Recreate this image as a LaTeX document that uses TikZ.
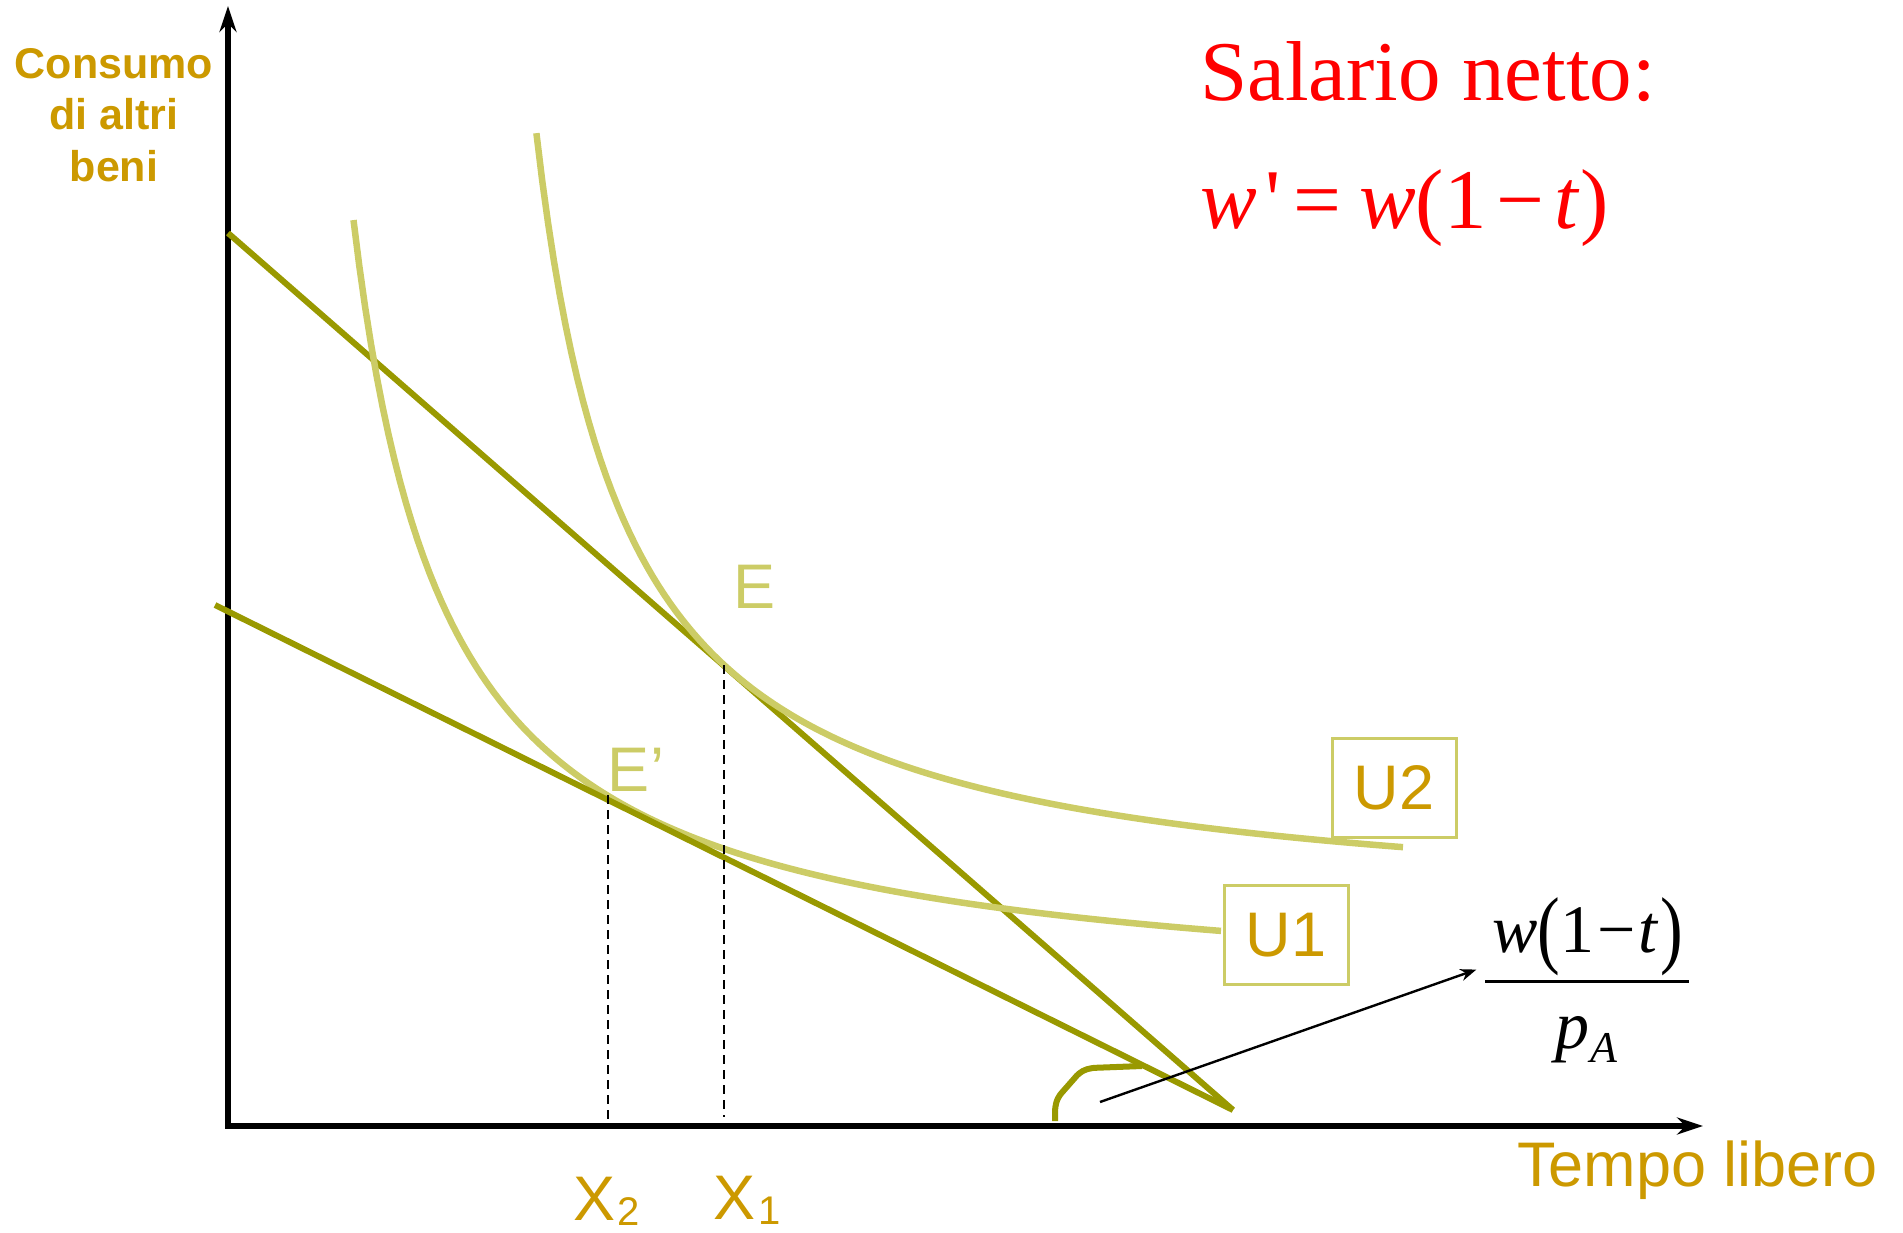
\documentclass[tikz,border=0pt]{standalone}
\usepackage{fontspec}
\setmainfont{Liberation Serif}
\setsansfont{Liberation Sans}
\usepackage{tikz}
\usetikzlibrary{arrows.meta, positioning, calc}
\definecolor{budgetline}{RGB}{153,153,0}
\definecolor{indiff}{RGB}{204,204,102}
\definecolor{goldtxt}{RGB}{204,153,0}

\begin{document}
\begin{tikzpicture}[
        x=1bp, y=-1bp,
        font=\sffamily,
        axis/.style={line width=5.5bp, line join=miter, {Stealth[length=26bp, width=17bp]}-{Stealth[length=26bp, width=17bp]}},
        budget/.style={line width=6bp, draw=budgetline},
        curve/.style={line width=6.5bp, draw=indiff, samples=150},
        guide/.style={line width=2.4bp, dash pattern=on 9bp off 6bp},
        lbl/.style={inner sep=0pt, text=goldtxt, font=\sffamily\fontsize{63bp}{70bp}\selectfont},
        ptlbl/.style={lbl, text=indiff},
        ubox/.style={lbl, draw=indiff, line width=3bp, minimum width=124bp, minimum height=99bp},
        redtxt/.style={inner sep=0pt, anchor=base west, text=red, font=\rmfamily\fontsize{85bp}{90bp}\selectfont},
        fractxt/.style={inner sep=0pt, anchor=base, font=\rmfamily\fontsize{68bp}{72bp}\selectfont},
        arr/.style={-{Stealth[length=16bp, width=12bp]}, line width=2.4bp}
    ]
        \useasboundingbox (0,0) rectangle (1903,1232);

        \coordinate (O) at (228,1126);
        \coordinate (ytop) at (228,6);
        \coordinate (xend) at (1703,1126);
        \coordinate (A1) at (228,233);
        \coordinate (A2) at (215,605);
        \coordinate (B) at (1233,1110);
        \coordinate (E) at (724,665);
        \coordinate (Ep) at (608,795);
        \coordinate (X1) at (724,1117);
        \coordinate (X2) at (608,1120);
        \coordinate (arrS) at (1100,1102);

        \draw[axis] (ytop) -- (O) -- (xend);

        \draw[budget] (A1) -- (B);
        \draw[curve] plot[domain=536.4:1403] (\x, {921.8 - 714.54/((\x - 445.8)/100)});
        \draw[curve] plot[domain=353.5:1221] (\x, {1007.6 - 737.18/((\x - 259.9)/100)});
        \draw[budget] (A2) -- (B);
        \draw[budget, rounded corners=5bp] (1055,1121) -- (1055,1107) -- (1058,1097) -- (1080,1072) -- (1090,1068) -- (1142,1066);

        \draw[guide] (E) -- (X1);
        \draw[guide] (Ep) -- (X2);

        \node[ptlbl] (Elbl) at (755,587) {E};
        \node[ptlbl] (Eplbl) at (636,770) {E’};
        \node[ubox] (U2) at (1394,788) {U2};
        \node[ubox] (U1) at (1286,935) {U1};
        \node[lbl, anchor=base west] (x2lbl) at (573,1220) {X\kern2bp\raisebox{-5bp}{\fontsize{40bp}{40bp}\selectfont 2}};
        \node[lbl, anchor=base west] (x1lbl) at (713,1219) {X\kern3bp\raisebox{-5bp}{\fontsize{40bp}{40bp}\selectfont 1}};
        \node[lbl, anchor=base west] (tempo) at (1517,1186) {Tempo libero};
        \node[inner sep=0pt, align=center, text=goldtxt, font=\sffamily\bfseries\fontsize{43bp}{51.5bp}\selectfont] (consumo) at (114,115) {Consumo\\di altri\\beni};

        \node[redtxt] (salario) at (1200,100) {Salario netto:};
        \node[redtxt] (wnet) at (1200,228) {\itshape w\kern9bp\upshape\textquotesingle\kern12bp=\kern18bp\itshape w\upshape(1\kern10bp−\kern10bp\itshape t\kern2bp\upshape)};

        \node[fractxt] (num) at (1588,952) {\itshape w\upshape\raisebox{-5bp}{\scalebox{1}[1.27]{(}}1\kern3bp−\kern3bp\itshape t\kern3bp\upshape\raisebox{-5bp}{\scalebox{1}[1.27]{)}}};
        \node[fractxt] (den) at (1586,1048) {\itshape p\kern1bp\raisebox{-14bp}{\fontsize{44bp}{46bp}\selectfont A}};
        \draw[line width=3bp] (1485,981) -- (1689,981);

        \draw[arr] (arrS) -- ([xshift=-16bp, yshift=6bp]num.south west);
    \end{tikzpicture}
\end{document}
